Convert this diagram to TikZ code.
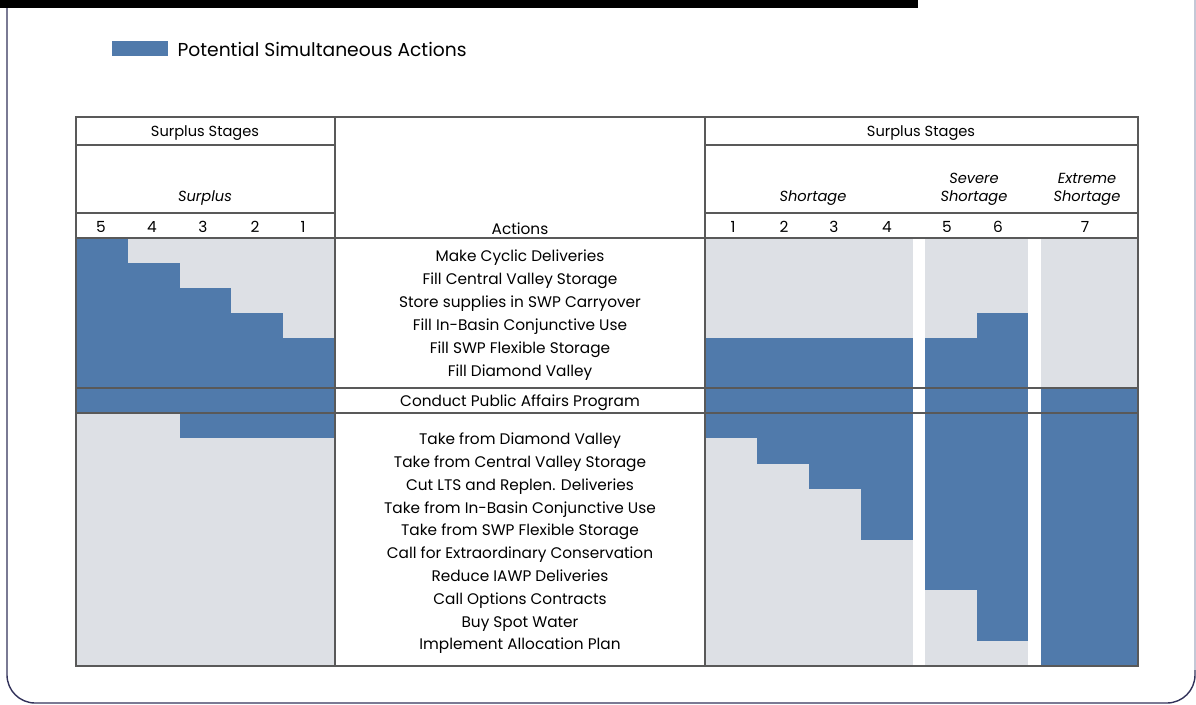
\documentclass[tikz,border=0pt]{standalone}
\usepackage{fontspec}
\setmainfont{Poppins}
\usetikzlibrary{positioning}
\definecolor{stageblue}{RGB}{80,122,171}
\definecolor{stagegray}{RGB}{221,224,229}
\definecolor{framenavy}{RGB}{50,50,90}
\definecolor{framelight}{RGB}{196,200,214}

\begin{document}
\begin{tikzpicture}[x=0.025cm,y=-0.025cm,draw=black!65,>=latex]
	\tikzstyle{txt}=[inner sep=0pt,text height=0.72em,text depth=0.2em,font=\fontsize{10.9}{12}\selectfont]
	\tikzstyle{hd}=[txt,font=\fontsize{10.4}{12}\selectfont]
	\tikzstyle{cat}=[inner sep=0pt,align=center,font=\fontsize{10.4}{12.8}\selectfont\itshape]
	\tikzstyle{on}=[fill=stageblue]
	\tikzstyle{off}=[fill=stagegray]
	\tikzstyle{rule}=[draw=black!65,line width=0.8pt]
	\useasboundingbox (0,0) rectangle (1196,704);
	% frame and top bar
	\draw[framenavy,line width=1pt,rounded corners=20pt] (7,0) -- (7,703) -- (1195,703) -- (1195,0);
	\draw[framelight,line width=1pt] (1195,0) -- (1195,670);
	\fill[black] (0,0) rectangle (918,8);
	% legend
	\node[on,inner sep=0pt,minimum width=1.4cm,minimum height=0.375cm] (swatch) at (140,48.5) {};
	\node[txt,font=\fontsize{13.3}{15}\selectfont,anchor=west,right=0.225cm of swatch,yshift=-3pt] (legend) {Potential Simultaneous Actions};
	% surplus side
	\fill[off] (76,238) rectangle (335,666);
	\foreach \i in {0,...,4}
		\fill[on] ({76+51.8*\i},{238+25*\i}) rectangle ({76+51.8*(\i+1)},413);
	\fill[on] (180,413) rectangle (335,438.3);
	% shortage side
	\fill[off] (705,238) rectangle (913,666);
	\fill[off] (925,238) rectangle (1028,666);
	\fill[off] (1041,238) rectangle (1138,388);
	\fill[on] (1041,388) rectangle (1138,666);
	\foreach \i/\r in {0/1,1/2,2/3,3/5}
		\fill[on] ({705+52*\i},338) rectangle ({705+52*(\i+1)},{413+25.3*\r});
	\fill[on] (925,338) rectangle (976.5,{413+25.3*7});
	\fill[on] (976.5,313) rectangle (1028,{413+25.3*9});
	% rules
	\draw[rule] (76,117) rectangle (1138,666);
	\draw[rule] (335,117) -- (335,666) (705,117) -- (705,666);
	\foreach \y in {145,213}
		\draw[rule] (76,\y) -- (335,\y) (705,\y) -- (1138,\y);
	\foreach \y in {238,388,413}
		\draw[rule] (76,\y) -- (1138,\y);
	% headings
	\node[hd] (lstages) at (205,133) {Surplus Stages};
	\node[hd] (rstages) at (921,133) {Surplus Stages};
	\node[cat] (surplus) at (205,198) {Surplus};
	\node[cat] (shortage) at (813,198) {Shortage};
	\node[cat] (severe) at (974,189) {Severe\\Shortage};
	\node[cat] (extreme) at (1087,189) {Extreme\\Shortage};
	\node[txt] (acthead) at (520,231) {Actions};
	\foreach \n/\x in {5/101,4/152,3/203,2/255,1/303}
		\node[txt] (l-\n) at (\x,229) {\n};
	\foreach \n/\x in {1/733,2/784,3/834,4/887,5/947,6/998,7/1085}
		\node[txt] (r-\n) at (\x,229) {\n};
	% actions
	\foreach \t [count=\i] in {Make Cyclic Deliveries,Fill Central Valley Storage,Store supplies in SWP Carryover,Fill In-Basin Conjunctive Use,Fill SWP Flexible Storage,Fill Diamond Valley}
		\node[txt] (a-\i) at (520,{258+23*(\i-1)}) {\t};
	\node[txt] (pap) at (520,403) {Conduct Public Affairs Program};
	\foreach \t [count=\i] in {Take from Diamond Valley,Take from Central Valley Storage,Cut LTS and Replen. Deliveries,Take from In-Basin Conjunctive Use,Take from SWP Flexible Storage,Call for Extraordinary Conservation,Reduce IAWP Deliveries,Call Options Contracts,Buy Spot Water,Implement Allocation Plan}
		\node[txt] (b-\i) at (520,{441+22.8*(\i-1)}) {\t};
\end{tikzpicture}
\end{document}
